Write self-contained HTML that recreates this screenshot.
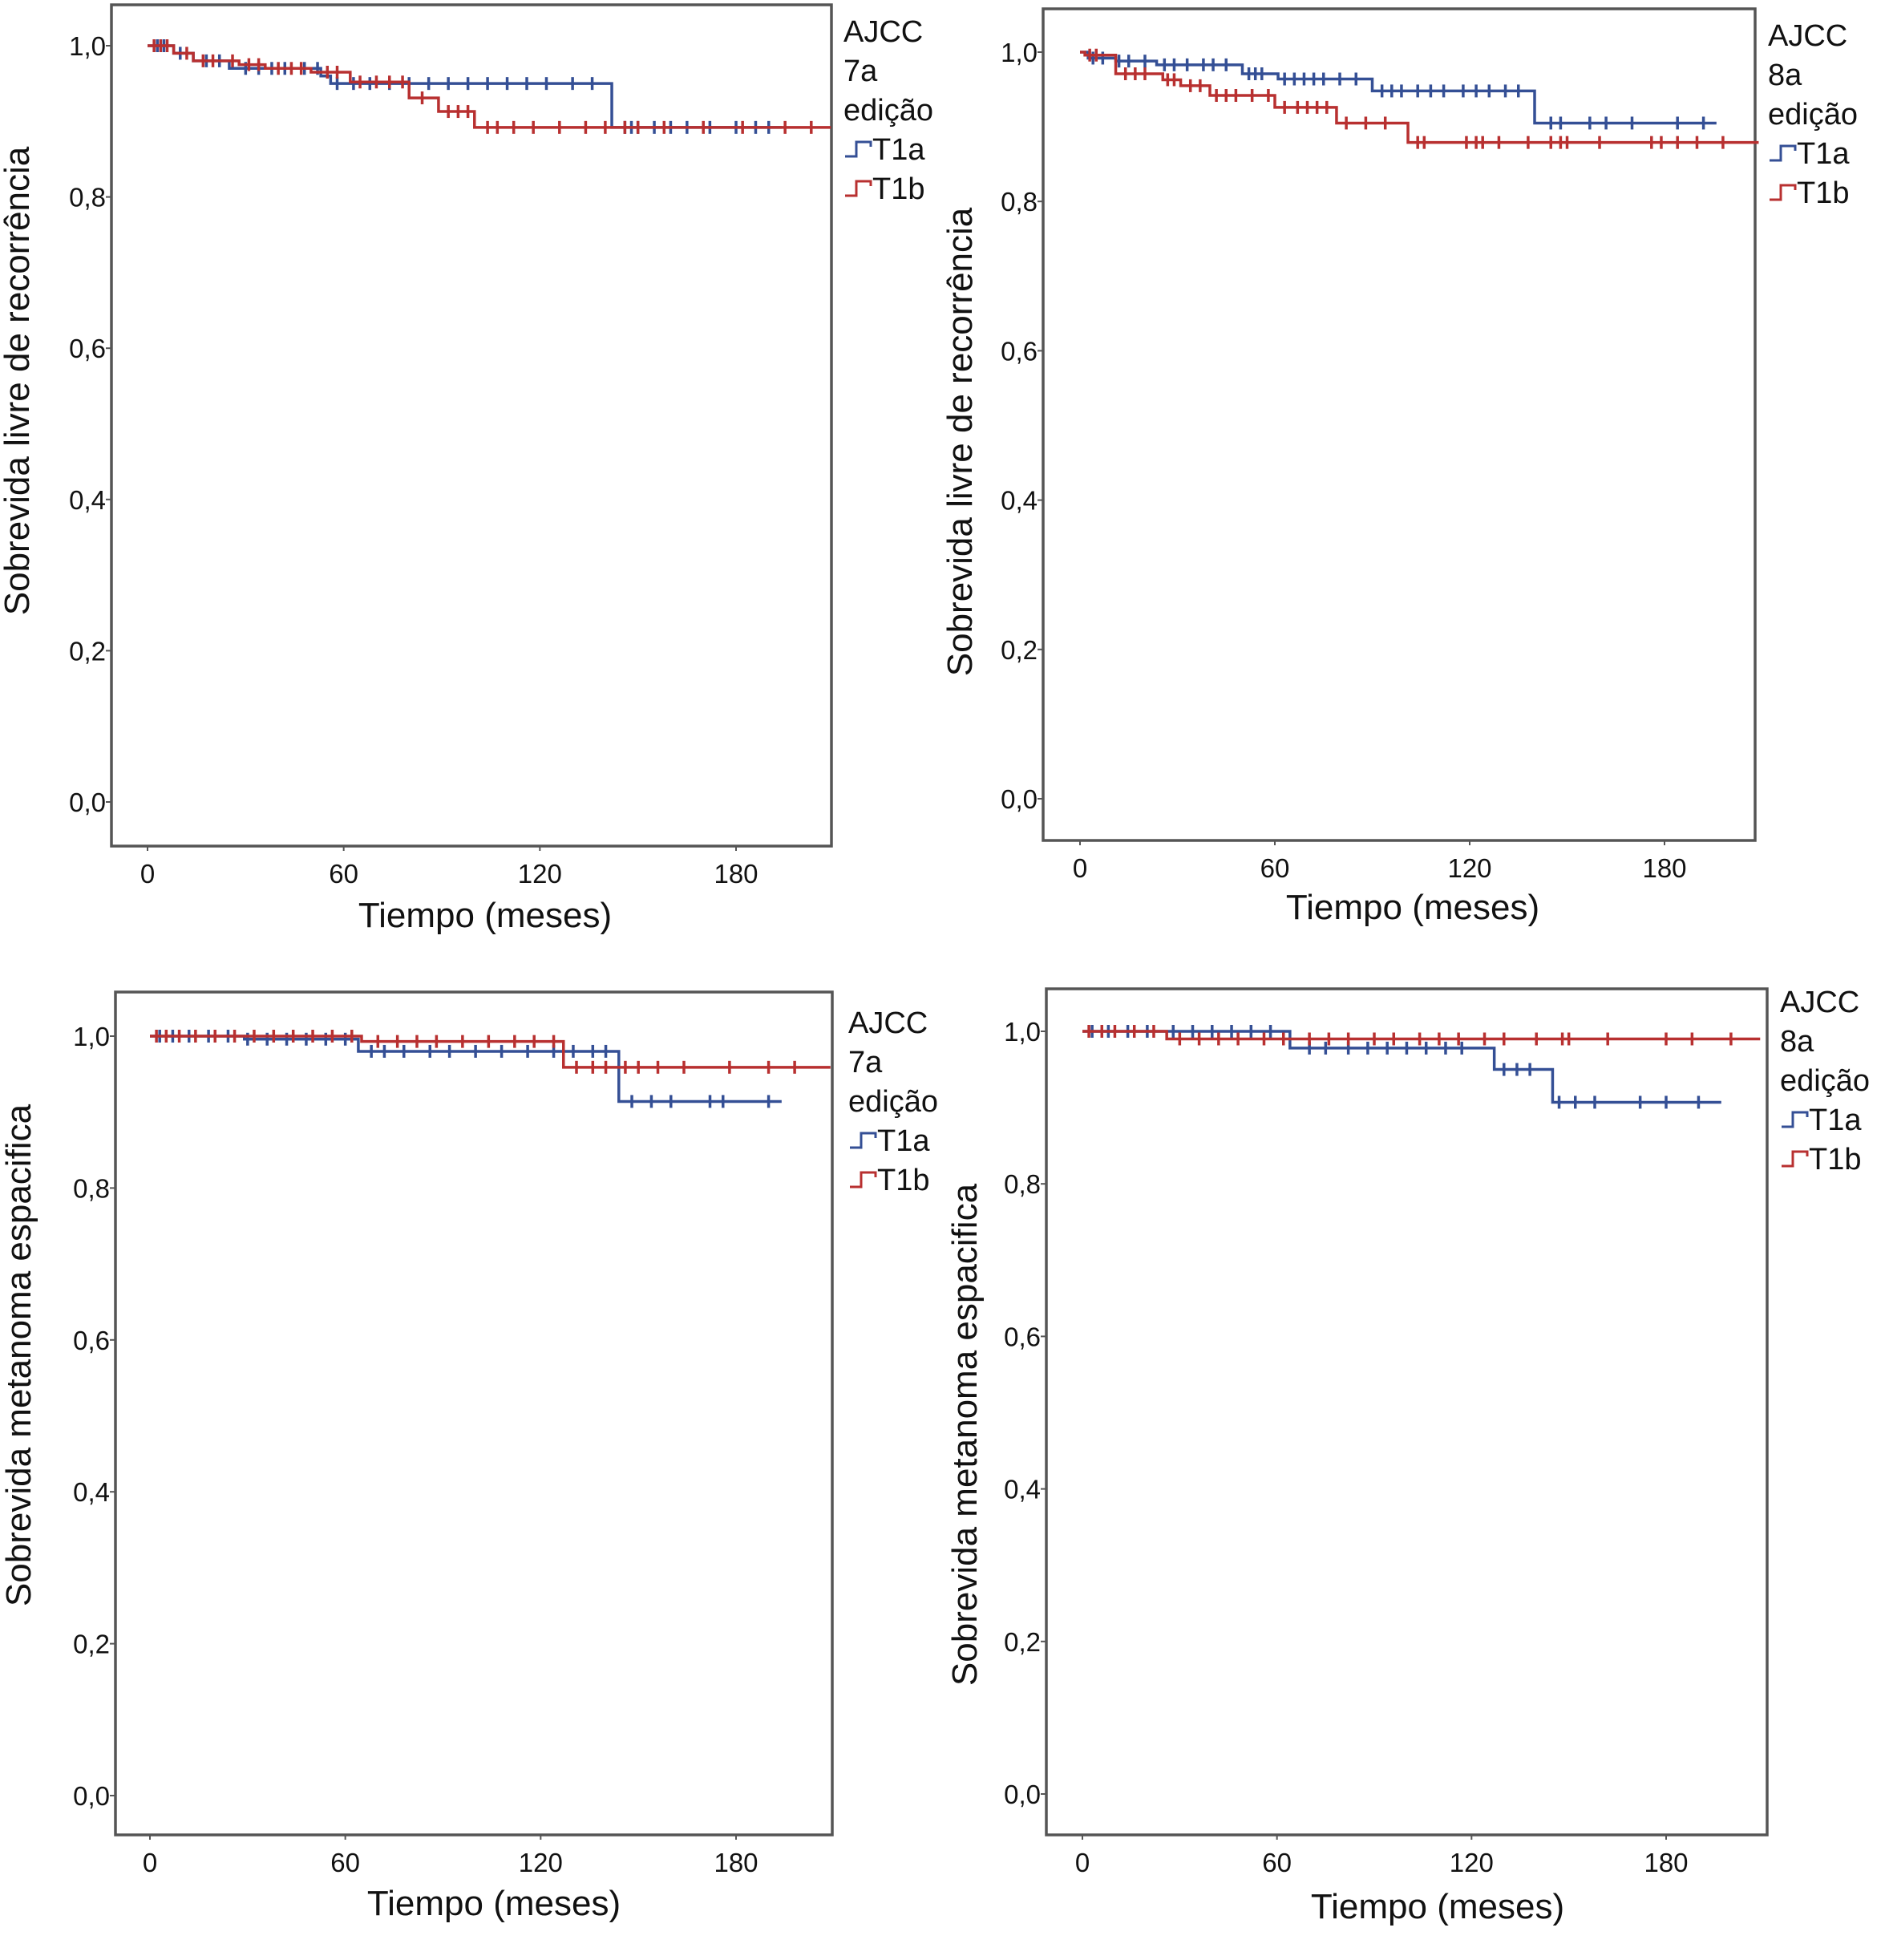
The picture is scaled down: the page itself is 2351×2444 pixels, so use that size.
<!DOCTYPE html>
<html><head><meta charset="utf-8">
<style>
html,body{margin:0;padding:0;background:#fff;}
svg{display:block;font-family:"Liberation Sans",Arial,sans-serif;}
</style></head>
<body>
<svg id="fig" width="2351" height="2444" viewBox="0 0 2351 2444" xmlns="http://www.w3.org/2000/svg"></svg>
<script>
// ---- shared axis data ----
const xTicks = [0, 60, 120, 180];
const yTicks = [0, 0.2, 0.4, 0.6, 0.8, 1.0];
const yTickLabels = ["0,0", "0,2", "0,4", "0,6", "0,8", "1,0"];
const xTickLabels = ["0", "60", "120", "180"];

// ---- Panel 1: RFS, AJCC 7a ----
const p1T1aTimes = [0, 8, 14, 25, 53, 56, 142];
const p1T1aSurv  = [1.0, 0.99, 0.98, 0.97, 0.96, 0.95, 0.892];
const p1T1aEnd = 194;
const p1T1aCens = [3,5,10,18,22,30,34,38,42,48,52,58,63,68,74,80,86,92,98,104,110,116,122,130,136,146,148,150,155,160,165,172,180,186,190];
const p1T1bTimes = [0, 8, 14, 28, 36, 50, 62, 80, 89, 100];
const p1T1bSurv  = [1.0, 0.99, 0.98, 0.975, 0.97, 0.965, 0.952, 0.931, 0.913, 0.892];
const p1T1bEnd = 209;
const p1T1bCens = [2,4,6,12,17,20,26,31,34,40,44,47,55,58,65,70,74,78,84,92,95,98,104,107,112,118,126,134,140,146,150,158,170,182,195,203];

// ---- Panel 2: RFS, AJCC 8a ----
const p2T1aTimes = [0, 2.5, 11, 23.6, 50, 61, 90, 140];
const p2T1aSurv  = [1.0, 0.992, 0.988, 0.983, 0.971, 0.964, 0.948, 0.905];
const p2T1aEnd = 196;
const p2T1aCens = [4,7,12,15,20,26,29,33,38,41,45,52,54,56,63,66,69,72,75,80,85,93,96,99,104,108,112,118,122,126,131,135,145,148,157,162,170,184,192];
const p2T1bTimes = [0, 1.5, 11, 25.5, 31, 40, 60, 79, 101];
const p2T1bSurv  = [1.0, 0.996, 0.971, 0.963, 0.955, 0.942, 0.926, 0.905, 0.879];
const p2T1bEnd = 209;
const p2T1bCens = [3,5,14,17,20,27,29,34,37,42,45,48,53,58,63,67,70,73,76,82,88,94,104,106,119,122,124,129,138,145,148,150,160,176,179,184,190,198];

// ---- Panel 3: DSS, AJCC 7a ----
const p3T1aTimes = [0, 29, 64, 144];
const p3T1aSurv  = [1.0, 0.996, 0.98, 0.914];
const p3T1aEnd = 194;
const p3T1aCens = [3,7,12,18,24,30,36,42,48,54,60,68,72,78,86,92,100,108,116,124,130,136,140,148,154,160,172,176,190];
const p3T1bTimes = [0, 65, 127];
const p3T1bSurv  = [1.0, 0.993, 0.959];
const p3T1bEnd = 209;
const p3T1bCens = [2,5,9,14,20,26,32,38,44,50,56,62,70,76,82,88,96,104,112,118,124,131,136,140,146,150,156,164,178,190,198];

// ---- Panel 4: DSS, AJCC 8a ----
const p4T1aTimes = [0, 64, 127, 145];
const p4T1aSurv  = [1.0, 0.978, 0.95, 0.907];
const p4T1aEnd = 197;
const p4T1aCens = [3,8,14,20,28,34,40,46,52,58,70,75,82,88,94,100,106,112,117,130,134,138,147,152,158,172,180,190];
const p4T1bTimes = [0, 26];
const p4T1bSurv  = [1.0, 0.99];
const p4T1bEnd = 209;
const p4T1bCens = [2,6,10,16,22,30,36,42,48,56,62,70,76,82,90,96,104,110,116,124,130,140,148,150,162,180,188,200];

const BLUE = "#344f95", RED = "#b83030";
const svg = document.getElementById('fig');
const NS = "http://www.w3.org/2000/svg";
function mk(tag, attrs, parent){ const e=document.createElementNS(NS,tag); for(const k in attrs) e.setAttribute(k,attrs[k]); (parent||svg).appendChild(e); return e; }

function panel(cfg){
  const g = mk('g',{});
  
  
  const xs = t => cfg.x0 + (t/180)*(cfg.x180-cfg.x0);
  const ys = v => cfg.y0 + v*(cfg.y1-cfg.y0);
  const fr = mk('rect',{x:cfg.L,y:cfg.T,width:cfg.R-cfg.L,height:cfg.B-cfg.T,fill:'none',stroke:'#555',"stroke-width":3.5},g);
  
  
  yTicks.forEach((v,i)=>{
    const y=ys(v);
    const tk = mk('line',{x1:cfg.L-7,x2:cfg.L,y1:y,y2:y,stroke:'#555',"stroke-width":2},g);
    
    
    const tx = mk('text',{x:cfg.L-7,y:y+12,"text-anchor":"end","font-size":33,fill:'#111'},g);
    
    
    tx.textContent=yTickLabels[i];
  });
  xTicks.forEach((t,i)=>{
    const x=xs(t);
    const tk = mk('line',{x1:x,x2:x,y1:cfg.B,y2:cfg.B+6,stroke:'#555',"stroke-width":2},g);
    
    
    const tx = mk('text',{x:x,y:cfg.B+46,"text-anchor":"middle","font-size":33,fill:'#111'},g);
    
    
    tx.textContent=xTickLabels[i];
  });
  const xt = mk('text',{x:cfg.xtX,y:cfg.xtY,"text-anchor":"middle","font-size":44,fill:'#111'},g);
  
  
  xt.textContent='Tiempo (meses)';
  const yt = mk('text',{x:0,y:0,"text-anchor":"middle","font-size":44,fill:'#111',transform:`translate(${cfg.ytX},${cfg.ytY}) rotate(-90)`},g);
  
  
  yt.textContent=cfg.ytitle;
  cfg.series.forEach(s=>{
    let d=`M${xs(s.times[0])},${ys(s.surv[0])}`;
    for(let i=1;i<s.times.length;i++){ d+=`H${xs(s.times[i])}V${ys(s.surv[i])}`; }
    d+=`H${xs(s.end)}`;
    const p = mk('path',{d:d,fill:'none',stroke:s.color,"stroke-width":3.5},g);
    
    
    s.cens.forEach(t=>{
      let v=s.surv[0];
      for(let i=0;i<s.times.length;i++){ if(s.times[i]<=t) v=s.surv[i]; }
      const x=xs(t), y=ys(v);
      const c = mk('line',{x1:x,x2:x,y1:y-8,y2:y+8,stroke:s.color,"stroke-width":3.5},g);
      
      
    });
  });
  const lg = mk('g',{},g);
  
  
  const lines=['AJCC',cfg.ed,'edição'];
  lines.forEach((l,i)=>{
    const t=mk('text',{x:cfg.lgX,y:cfg.lgY+i*49,"font-size":38,fill:'#111'},lg);
    
    
    t.textContent=l;
  });
  cfg.series.forEach((s,i)=>{
    const y=cfg.lgY+(3+i)*49;
    const sy=y-12;
    const e=mk('path',{d:`M${cfg.lgX+2},${sy+8}H${cfg.lgX+16}V${sy-10}H${cfg.lgX+34}V${sy-4}`,fill:'none',stroke:s.color,"stroke-width":3},lg);
    
    
    const t=mk('text',{x:cfg.lgX+36,y:y,"font-size":38,fill:'#111'},lg);
    
    
    t.textContent=s.label;
  });
}

panel({name:'panel-rfs-ajcc7',L:139,T:6,R:1037,B:1055,y1:57,y0:1000,x0:184,x180:918,
  xtX:605,xtY:1156,ytX:36,ytY:475,ytitle:'Sobrevida livre de recorrência',lgX:1052,lgY:52,ed:'7a',
  series:[{label:'T1a',color:BLUE,times:p1T1aTimes,surv:p1T1aSurv,end:p1T1aEnd,cens:p1T1aCens},
          {label:'T1b',color:RED,times:p1T1bTimes,surv:p1T1bSurv,end:p1T1bEnd,cens:p1T1bCens}]});
panel({name:'panel-rfs-ajcc8',L:1301,T:11,R:2189,B:1048,y1:65,y0:996,x0:1347,x180:2076,
  xtX:1762,xtY:1146,ytX:1212,ytY:551,ytitle:'Sobrevida livre de recorrência',lgX:2205,lgY:57,ed:'8a',
  series:[{label:'T1a',color:BLUE,times:p2T1aTimes,surv:p2T1aSurv,end:p2T1aEnd,cens:p2T1aCens},
          {label:'T1b',color:RED,times:p2T1bTimes,surv:p2T1bSurv,end:p2T1bEnd,cens:p2T1bCens}]});
panel({name:'panel-dss-ajcc7',L:144,T:1237,R:1038,B:2288,y1:1292,y0:2239,x0:187,x180:918,
  xtX:616,xtY:2388,ytX:38,ytY:1690,ytitle:'Sobrevida metanoma espacifica',lgX:1058,lgY:1288,ed:'7a',
  series:[{label:'T1a',color:BLUE,times:p3T1aTimes,surv:p3T1aSurv,end:p3T1aEnd,cens:p3T1aCens},
          {label:'T1b',color:RED,times:p3T1bTimes,surv:p3T1bSurv,end:p3T1bEnd,cens:p3T1bCens}]});
panel({name:'panel-dss-ajcc8',L:1305,T:1233,R:2204,B:2288,y1:1286,y0:2237,x0:1350,x180:2078,
  xtX:1793,xtY:2392,ytX:1218,ytY:1789,ytitle:'Sobrevida metanoma espacifica',lgX:2220,lgY:1262,ed:'8a',
  series:[{label:'T1a',color:BLUE,times:p4T1aTimes,surv:p4T1aSurv,end:p4T1aEnd,cens:p4T1aCens},
          {label:'T1b',color:RED,times:p4T1bTimes,surv:p4T1bSurv,end:p4T1bEnd,cens:p4T1bCens}]});
</script>
</body></html>
